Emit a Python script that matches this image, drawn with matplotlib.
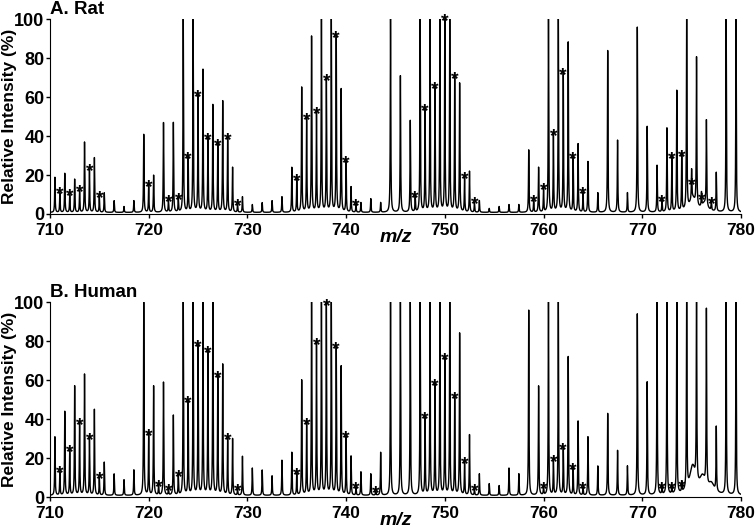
import matplotlib
matplotlib.use('Agg')
import matplotlib.pyplot as plt
import numpy as np

plt.rcParams['font.family'] = ['Liberation Sans', 'DejaVu Sans']
plt.rcParams['font.weight'] = 'bold'

# peak lists (m/z, relative intensity %)
rat_mz = [710.5, 711.5, 712.5, 713.5, 714.5, 715.5, 716.5, 717.5, 718.5, 719.5,
          720.5, 721.5, 722.5, 723.5, 724.5, 725.5, 726.5, 727.5, 728.5, 729.5,
          730.5, 731.5, 732.5, 733.5, 734.5, 735.5, 736.5, 737.5, 738.5, 739.5,
          740.5, 741.5, 742.5, 743.5, 744.5, 745.5, 746.5, 747.5, 748.5, 749.5,
          750.5, 751.5, 752.5, 753.5, 754.5, 755.5, 756.5, 757.5, 758.5, 759.5,
          760.5, 761.5, 762.5, 763.5, 764.5, 765.5, 766.5, 767.5, 768.5, 769.5,
          770.5, 771.5, 772.5, 773.5, 774.5, 775.5, 776.5, 777.5, 778.5, 779.5]
rat_int = [18, 20, 17, 36, 28, 10, 6, 3, 6, 40,
           19, 46, 46, 100, 100, 73, 55, 57, 23, 8,
           4, 5, 6, 8, 23, 64, 90, 100, 100, 63,
           13, 5, 7, 5, 100, 70, 47, 100, 100, 100,
           99, 66, 21, 6, 2, 3, 4, 4, 32, 23,
           100, 100, 87, 35, 26, 10, 83, 37, 10, 95,
           44, 24, 43, 62, 100, 76, 44, 20, 100, 100]
rat_star_mz = [711, 712, 713, 714, 715, 720, 722, 723, 724, 725, 726, 727, 728, 729,
               735, 736, 737, 738, 739, 740, 741, 747, 748, 749, 750, 751, 752, 753,
               759, 760, 761, 762, 763, 764, 772, 773, 774, 775, 776, 777]
rat_star_int = [10, 9, 11, 22, 8, 14, 6, 7, 28, 60, 38, 35, 38, 4,
                17, 48, 51, 68, 90, 26, 4, 8, 53, 64, 99, 69, 18, 5,
                6, 12, 40, 71, 28, 10, 6, 28, 29, 15, 7, 5]
rat_broad_mz = [775.1, 776.3]
rat_broad_int = [7, 4]

human_mz = rat_mz
human_int = [30, 43, 56, 62, 44, 17, 11, 8, 13, 99,
             56, 58, 41, 100, 100, 100, 100, 67, 29, 20,
             14, 13, 10, 18, 22, 59, 100, 100, 100, 66,
             20, 12, 11, 22, 100, 100, 100, 100, 100, 100,
             100, 83, 31, 11, 6, 5, 14, 11, 95, 56,
             100, 100, 71, 38, 30, 15, 42, 23, 15, 93,
             58, 100, 100, 100, 100, 100, 90, 33, 100, 100]
human_star_mz = [711, 712, 713, 714, 715, 720, 721, 722, 723, 724, 725, 726, 727, 728,
                 729, 735, 736, 737, 738, 739, 740, 741, 743, 748, 749, 750, 751, 752,
                 753, 760, 761, 762, 763, 764, 772, 773, 774]
human_star_int = [12, 23, 37, 29, 9, 31, 5, 3, 10, 48, 77, 74, 61, 29,
                  3, 11, 37, 78, 98, 76, 30, 4, 2, 40, 57, 70, 50, 17,
                  3, 4, 18, 24, 14, 4, 4, 4, 5]
human_broad_mz = [775.1, 776.1, 777.0]
human_broad_int = [14, 8, 5]


def spectrum(grid, centers, heights, hw):
    y = np.zeros_like(grid)
    for c, h in zip(centers, heights):
        y += h * hw ** 2 / ((grid - c) ** 2 + hw ** 2)
    return y


def draw_panel(ax, title, mz, inten, star_mz, star_int, broad_mz, broad_int):
    grid = np.linspace(710, 780, 14001)
    y = (spectrum(grid, mz, inten, 0.03)
         + spectrum(grid, star_mz, star_int, 0.03)
         + spectrum(grid, broad_mz, broad_int, 0.35)
         + 0.8)
    ax.plot(grid, y, color='black', lw=1.0)
    for m, h in zip(star_mz, star_int):
        ax.text(m, h - 2.5, '*', ha='center', va='baseline', fontsize=14,
                fontweight='bold', clip_on=False)

    ax.set_xlim(710, 780)
    ax.set_ylim(0, 100)
    ax.set_xticks(np.arange(710, 781, 10))
    ax.set_yticks(np.arange(0, 101, 20))
    ax.spines['top'].set_visible(False)
    ax.spines['right'].set_visible(False)
    ax.tick_params(length=3, width=1, labelsize=13)
    ax.tick_params(axis='x', pad=3.5, labelsize=12.5)
    ax.tick_params(axis='y', pad=1)
    ax.set_ylabel('Relative Intensity (%)', fontsize=12.5, fontweight='bold')
    ax.yaxis.set_label_coords(-0.047, 0.5)
    ax.set_xlabel('m/z', fontsize=14, fontweight='bold', style='italic')
    ax.xaxis.set_label_coords(0.5, -0.075)
    ax.text(0.0, 1.027, title, transform=ax.transAxes, ha='left', va='baseline',
            fontsize=13.5, fontweight='bold')


fig = plt.figure(figsize=(7.56, 5.28), dpi=100)
ax_a = fig.add_axes([0.0661, 0.5947, 0.914, 0.369])
ax_b = fig.add_axes([0.0661, 0.0587, 0.914, 0.369])

draw_panel(ax_a, 'A. Rat', rat_mz, rat_int, rat_star_mz, rat_star_int,
           rat_broad_mz, rat_broad_int)
draw_panel(ax_b, 'B. Human', human_mz, human_int, human_star_mz, human_star_int,
           human_broad_mz, human_broad_int)

fig.savefig('out.png', dpi=100)
